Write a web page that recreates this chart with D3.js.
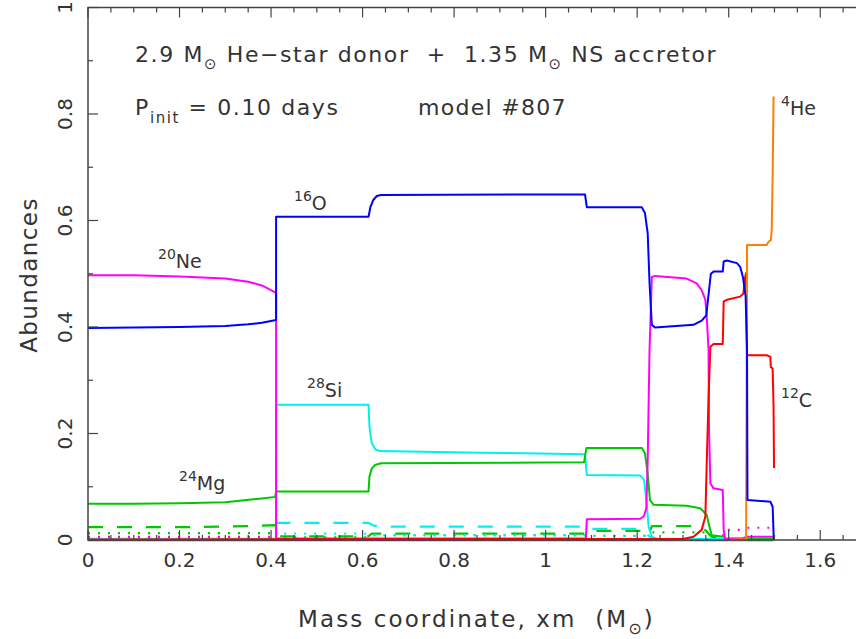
<!DOCTYPE html>
<html>
<head>
<meta charset="utf-8">
<script src="https://cdn.jsdelivr.net/npm/d3@7/dist/d3.min.js"></script>
<style>
  html, body { margin: 0; padding: 0; background: #fff; }
  svg text { font-family: "DejaVu Sans", sans-serif; fill: #333; white-space: pre; }
</style>
</head>
<body>
<svg id="chart" width="856" height="639"></svg>
<script>
// Abundance profiles: [mass coordinate (Msun), mass fraction]
const o16 = [[0,0.398],[0.1,0.399],[0.2,0.400],[0.3,0.402],[0.35,0.405],[0.38,0.408],[0.411,0.413],
  [0.411,0.607],[0.613,0.607],[0.617,0.625],[0.623,0.638],[0.631,0.646],[0.64,0.648],[1.086,0.649],
  [1.090,0.625],[1.210,0.625],[1.217,0.614],[1.223,0.576],[1.227,0.483],[1.232,0.404],[1.239,0.399],
  [1.323,0.404],[1.341,0.412],[1.351,0.422],[1.357,0.469],[1.361,0.500],[1.367,0.504],[1.387,0.504],
  [1.389,0.523],[1.396,0.525],[1.418,0.520],[1.425,0.513],[1.431,0.494],[1.437,0.457],[1.440,0.357],
  [1.441,0.075],[1.491,0.072],[1.496,0.0625],[1.498,0.013],[1.499,0.0]];
const ne20 = [[0,0.497],[0.1,0.497],[0.2,0.495],[0.3,0.491],[0.35,0.485],[0.38,0.478],[0.411,0.464],
  [0.411,0.003],[1.088,0.003],[1.090,0.039],[1.207,0.040],[1.215,0.045],[1.220,0.060],[1.223,0.150],
  [1.227,0.357],[1.232,0.494],[1.239,0.496],[1.308,0.491],[1.330,0.482],[1.341,0.469],[1.349,0.451],
  [1.352,0.419],[1.356,0.357],[1.357,0.207],[1.360,0.106],[1.367,0.097],[1.387,0.094],[1.389,0.019],
  [1.392,0.003],[1.430,0.003],[1.440,0.006],[1.499,0.006]];
const si28 = [[0,0.002],[0.411,0.002],[0.411,0.254],[0.613,0.254],[0.615,0.213],[0.620,0.182],[0.628,0.170],
  [0.638,0.167],[0.857,0.164],[1.086,0.161],[1.090,0.122],[1.207,0.121],[1.215,0.113],[1.220,0.075],
  [1.225,0.025],[1.232,0.006],[1.245,0.002],[1.499,0.002]];
const mg24 = [[0,0.068],[0.1,0.068],[0.2,0.069],[0.3,0.071],[0.347,0.075],[0.38,0.078],[0.409,0.081],
  [0.411,0.091],[0.613,0.091],[0.615,0.119],[0.620,0.134],[0.627,0.141],[0.64,0.144],[1.084,0.146],
  [1.089,0.173],[1.210,0.173],[1.217,0.163],[1.223,0.125],[1.228,0.075],[1.236,0.066],[1.308,0.0645],
  [1.338,0.0595],[1.352,0.047],[1.358,0.025],[1.363,0.009],[1.389,0.006],[1.395,0.002],[1.499,0.002]];
const c12 = [[0,0.001],[1.30,0.002],[1.323,0.006],[1.341,0.019],[1.349,0.044],[1.352,0.144],[1.356,0.269],
  [1.360,0.363],[1.367,0.368],[1.387,0.368],[1.389,0.448],[1.396,0.451],[1.425,0.457],[1.432,0.463],
  [1.436,0.494],[1.438,0.501],[1.440,0.347],[1.483,0.347],[1.491,0.344],[1.492,0.325],[1.496,0.322],
  [1.498,0.250],[1.499,0.135]];
const he4 = [[1.40,0.0],[1.438,0.002],[1.440,0.501],[1.440,0.554],[1.483,0.554],[1.487,0.560],[1.492,0.563],
  [1.494,0.582],[1.496,0.682],[1.498,0.833]];
// trace species near the axis
const greenDashed = [[0,0.024],[0.2,0.024],[0.35,0.026],[0.41,0.028],[0.411,0.007],[0.613,0.007],
  [0.62,0.012],[1.088,0.012],[1.090,0.017],[1.215,0.017],[1.225,0.010],[1.232,0.026],[1.330,0.026],
  [1.350,0.018],[1.360,0.008],[1.380,0.002],[1.499,0.002]];
const cyanDashed = [[0,0.002],[0.41,0.002],[0.411,0.032],[0.613,0.032],[0.625,0.027],[0.64,0.025],
  [1.088,0.025],[1.090,0.021],[1.212,0.021],[1.225,0.008],[1.235,0.001],[1.499,0.001]];
const greenDotted = [[0,0.013],[0.41,0.013],[0.411,0.005],[0.613,0.005],[0.62,0.009],[1.088,0.009],
  [1.090,0.008],[1.220,0.008],[1.232,0.0145],[1.350,0.0145],[1.365,0.005],[1.38,0.001],[1.499,0.001]];
const cyanDotted = [[0,0.004],[0.41,0.004],[0.411,0.012],[0.613,0.012],[0.63,0.009],[1.088,0.009],
  [1.090,0.0075],[1.220,0.0075],[1.232,0.001],[1.499,0.001]];
const magentaDotted = [[0,0.006],[0.41,0.006],[0.411,0.001],[1.386,0.001],[1.390,0.019],[1.430,0.019],
  [1.440,0.023],[1.499,0.023]];
const baseline = [[0,0],[1.499,0]];

const xTicks = [0,0.2,0.4,0.6,0.8,1,1.2,1.4,1.6];
const yTicks = [0,0.2,0.4,0.6,0.8,1];

const svg = d3.select("#chart");
const x = d3.scaleLinear().domain([0,1.7]).range([88,866]);
const y = d3.scaleLinear().domain([0,1]).range([540,7.5]);

const line = d3.line().x(d => x(d[0])).y(d => y(d[1]));

const plot = svg.append("g");
const series = [
  {d: baseline, c: "#5e4e60", w: 2.6, dash: null},
  {d: greenDashed, c: "#00c800", w: 2.2, dash: "15 14"},
  {d: cyanDashed, c: "#00f0f0", w: 2.2, dash: "15 14"},
  {d: greenDotted, c: "#00c800", w: 2.2, dash: "2 8"},
  {d: cyanDotted, c: "#00f0f0", w: 2.2, dash: "2 8"},
  {d: magentaDotted, c: "#ff00ff", w: 2.2, dash: "2 8"},
  {d: si28, c: "#00f0f0", w: 2, dash: null},
  {d: mg24, c: "#00c800", w: 2, dash: null},
  {d: ne20, c: "#ff00ff", w: 2, dash: null},
  {d: c12, c: "#ff0000", w: 2, dash: null},
  {d: he4, c: "#ff8000", w: 2, dash: null},
  {d: o16, c: "#0000ff", w: 2, dash: null}
];
series.forEach(s => {
  plot.append("path").attr("d", line(s.d)).attr("fill", "none")
    .attr("stroke", s.c).attr("stroke-width", s.w)
    .attr("stroke-linejoin", "round")
    .attr("stroke-dasharray", s.dash);
});

// frame and ticks
const axisColor = "#444";
const [x0, x1] = x.range(), [y0, y1] = y.range();
svg.append("rect").attr("x", x0).attr("y", y1).attr("width", x1 - x0).attr("height", y0 - y1)
  .attr("fill", "none").attr("stroke", axisColor).attr("stroke-width", 1.5);

const xMinor = d3.range(0, 1.7001, 0.05);
const yMinor = d3.range(0, 1.0001, 0.1);
const tk = svg.append("g").attr("stroke", axisColor).attr("stroke-width", 1.2);
xMinor.forEach(v => {
  const major = xTicks.some(t => Math.abs(t - v) < 1e-6);
  const len = major ? 10 : 5;
  tk.append("line").attr("x1", x(v)).attr("x2", x(v)).attr("y1", y0).attr("y2", y0 - len);
  tk.append("line").attr("x1", x(v)).attr("x2", x(v)).attr("y1", y1).attr("y2", y1 + len);
});
yMinor.forEach(v => {
  const major = yTicks.some(t => Math.abs(t - v) < 1e-6);
  const len = major ? 10 : 5;
  tk.append("line").attr("x1", x0).attr("x2", x0 + len).attr("y1", y(v)).attr("y2", y(v));
  tk.append("line").attr("x1", x1).attr("x2", x1 - len).attr("y1", y(v)).attr("y2", y(v));
});

const fmt = v => String(+v.toFixed(1));
svg.append("g").selectAll("text").data(xTicks).join("text")
  .attr("x", d => x(d)).attr("y", 567).attr("text-anchor", "middle")
  .attr("font-size", 20).text(fmt);
svg.append("g").selectAll("text").data(yTicks).join("text")
  .attr("transform", d => `translate(72,${y(d)}) rotate(-90)`).attr("text-anchor", "middle")
  .attr("font-size", 20).text(fmt);

// axis titles
const xt = svg.append("text").attr("x", 298).attr("y", 627).attr("font-size", 23)
  .attr("letter-spacing", 2.1);
xt.append("tspan").text("Mass coordinate, xm  (M");
xt.append("tspan").attr("font-size", 16).attr("dy", 7).text("⊙");
xt.append("tspan").attr("dy", -7).text(")");
svg.append("text").attr("transform", "translate(37,275) rotate(-90)").attr("text-anchor", "middle")
  .attr("font-size", 23).attr("letter-spacing", 1.4).text("Abundances");

// header text
const t1 = svg.append("text").attr("x", 135).attr("y", 62).attr("font-size", 22)
  .attr("letter-spacing", 1.6);
t1.append("tspan").text("2.9 M");
t1.append("tspan").attr("font-size", 15).attr("dy", 7).text("⊙");
t1.append("tspan").attr("dy", -7).text(" He\u2212star donor  +  1.35 M");
t1.append("tspan").attr("font-size", 15).attr("dy", 7).text("⊙");
t1.append("tspan").attr("dy", -7).text(" NS accretor");

const t2 = svg.append("text").attr("x", 135).attr("y", 115).attr("font-size", 22)
  .attr("letter-spacing", 1.6);
t2.append("tspan").text("P");
t2.append("tspan").attr("font-size", 15).attr("dy", 8).text("init");
t2.append("tspan").attr("dy", -8).text(" = 0.10 days");
svg.append("text").attr("x", 418).attr("y", 115).attr("font-size", 22)
  .attr("letter-spacing", 1.3).text("model #807");

// isotope labels
const isoLabels = [
  {a: "16", s: "O", x: 294, y: 210},
  {a: "20", s: "Ne", x: 158, y: 268},
  {a: "28", s: "Si", x: 307, y: 397},
  {a: "24", s: "Mg", x: 179, y: 490},
  {a: "4", s: "He", x: 781, y: 115},
  {a: "12", s: "C", x: 781, y: 407}
];
isoLabels.forEach(l => {
  const t = svg.append("text").attr("x", l.x).attr("y", l.y).attr("font-size", 19);
  t.append("tspan").attr("font-size", 14).attr("dy", -9).text(l.a);
  t.append("tspan").attr("dy", 9).text(l.s);
});
</script>
</body>
</html>
